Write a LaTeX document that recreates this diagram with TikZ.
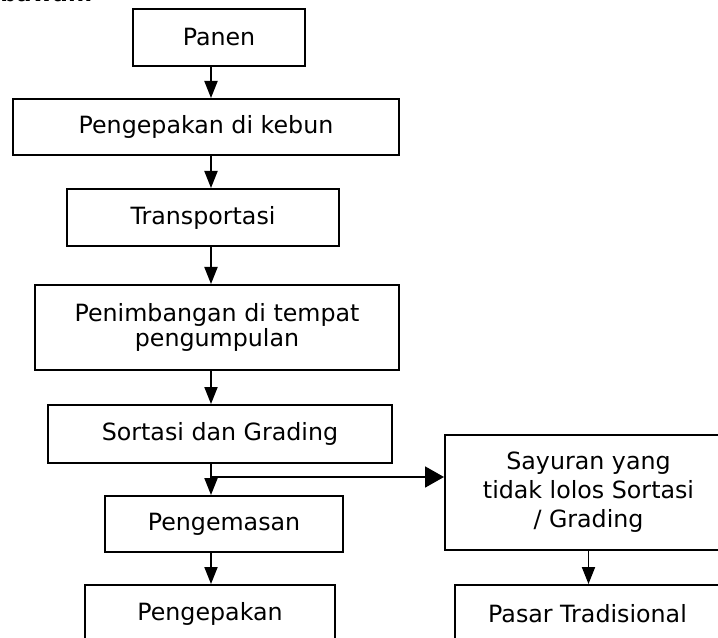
\documentclass[tikz,border=0pt]{standalone}
\usepackage{fontspec}
\setmainfont{DejaVu Sans}
\newfontfamily\boldfrag{DejaVu Sans Bold}
\usetikzlibrary{arrows.meta}
\begin{document}
\begin{tikzpicture}[x=0.75pt,y=-0.75pt,
  box/.style={draw=black, line width=1.5pt, rectangle, inner sep=0pt, align=center,
    font=\fontsize{17.8}{18.75}\selectfont},
  arr/.style={line width=1.4pt, -{Triangle[length=12.75pt,width=9.75pt]}},
  arrbig/.style={line width=1.4pt, -{Triangle[length=14.25pt,width=15.75pt]}}]
\useasboundingbox (0,0) rectangle (718,638);
\node[anchor=base west, inner sep=0pt, font=\boldfrag\fontsize{17}{19}\selectfont] (frag) at (0,1.5) {bawah.};
\node[box, minimum width=129pt, minimum height=42.75pt] (panen) at (219,37.5) {Panen};
\node[box, minimum width=289.5pt, minimum height=42pt] (kebun) at (206,127) {Pengepakan di kebun};
\node[box, minimum width=204pt, minimum height=42.75pt] (trans) at (203,217.5) {Transportasi};
\node[box, minimum width=273pt, minimum height=63.75pt] (timbang) at (217,327.5) {Penimbangan di tempat\\pengumpulan};
\node[box, minimum width=258pt, minimum height=43.5pt] (sortasi) at (220,434) {Sortasi dan Grading};
\node[box, minimum width=178.5pt, minimum height=42pt] (kemas) at (224,524) {Pengemasan};
\node[box, minimum width=187.5pt, minimum height=43.5pt] (pepak) at (210,614) {Pengepakan};
\node[box, minimum width=215.25pt, minimum height=86.25pt, font=\fontsize{17.8}{21.75}\selectfont] (sayur) at (588.5,492.5) {Sayuran yang\\tidak lolos Sortasi\\/ Grading};
\node[box, minimum width=198.75pt, minimum height=43.5pt] (pasar) at (587.5,614) {Pasar Tradisional};
\coordinate (spine) at (211,0);
\coordinate (branch) at (211,477);
\draw[arr] (panen.south -| spine) -- (kebun.north -| spine);
\draw[arr] (kebun.south -| spine) -- (trans.north -| spine);
\draw[arr] (trans.south -| spine) -- (timbang.north -| spine);
\draw[arr] (timbang.south -| spine) -- (sortasi.north -| spine);
\draw[arr] (sortasi.south -| spine) -- (kemas.north -| spine);
\draw[arrbig] (branch) -- (sayur.west |- branch);
\draw[arr] (kemas.south -| spine) -- (pepak.north -| spine);
\draw[arr] (sayur.south) -- (sayur.south |- pasar.north);
\end{tikzpicture}
\end{document}
